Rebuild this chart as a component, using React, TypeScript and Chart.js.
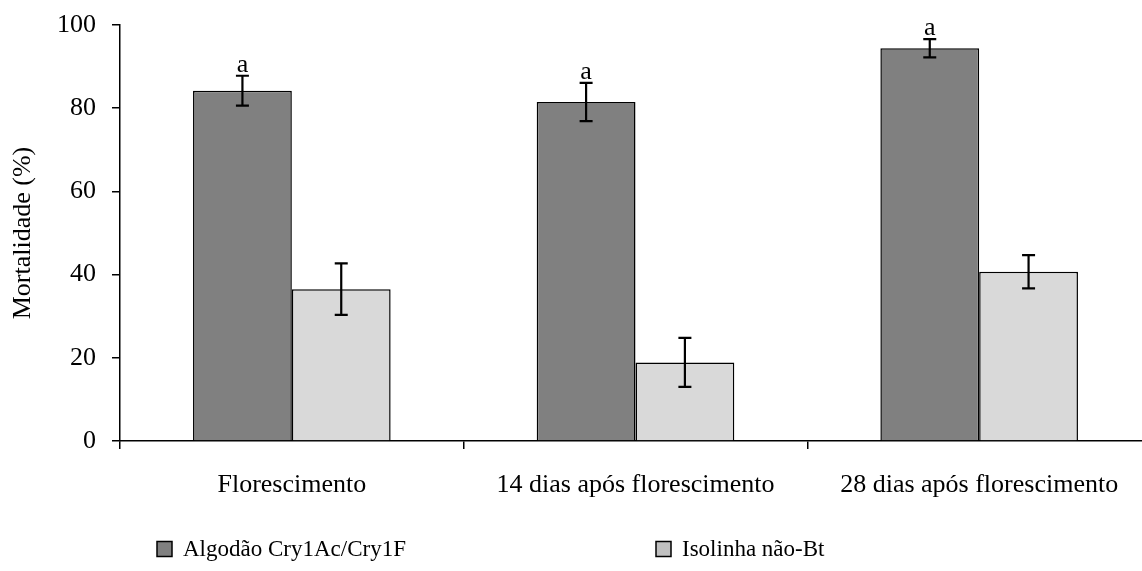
import React, { useEffect, useRef } from "react";
import { Chart, registerables } from "chart.js";

Chart.register(...registerables);

const categories = ["Florescimento", "14 dias após florescimento", "28 dias após florescimento"];
const seriesNames = ["Algodão Cry1Ac/Cry1F", "Isolinha não-Bt"];
const btValues = [84.2, 81.5, 94.4];
const btErrors = [3.6, 4.6, 2.2];
const isoValues = [36.5, 18.9, 40.7];
const isoErrors = [6.2, 5.9, 4.0];
const btLetters = ["a", "a", "a"];
const isoLetters = ["", "", ""];
const yMin = 0;
const yMax = 100;
const yStep = 20;
const yTitle = "Mortalidade (%)";

const SERIF = "'Liberation Serif', 'Times New Roman', serif";
const DARK = "#808080";
const LIGHT = "#d9d9d9";

const errorBarPlugin = {
  id: "errorBars",
  afterDatasetsDraw(chart: any) {
    const ctx = chart.ctx;
    const yScale = chart.scales.y;
    const errs = [btErrors, isoErrors];
    const letters = [btLetters, isoLetters];
    chart.data.datasets.forEach((ds: any, di: number) => {
      const meta = chart.getDatasetMeta(di);
      meta.data.forEach((el: any, i: number) => {
        const v = ds.data[i];
        const e = errs[di][i];
        const x = el.x;
        const yTop = yScale.getPixelForValue(v + e);
        const yBot = yScale.getPixelForValue(v - e);
        ctx.save();
        ctx.strokeStyle = "#000";
        ctx.lineWidth = 2.2;
        ctx.beginPath();
        ctx.moveTo(x, yTop);
        ctx.lineTo(x, yBot);
        ctx.moveTo(x - 6.5, yTop);
        ctx.lineTo(x + 6.5, yTop);
        ctx.moveTo(x - 6.5, yBot);
        ctx.lineTo(x + 6.5, yBot);
        ctx.stroke();
        const letter = letters[di][i];
        if (letter) {
          ctx.fillStyle = "#000";
          ctx.font = `26px ${SERIF}`;
          ctx.textAlign = "center";
          ctx.textBaseline = "alphabetic";
          ctx.fillText(letter, x, yTop - 4);
        }
        ctx.restore();
      });
    });
  },
};

const customLegendPlugin = {
  id: "customLegend",
  afterDraw(chart: any) {
    const ctx = chart.ctx;
    const starts = [157, 656];
    const yCenter = 549;
    const box = 15;
    chart.data.datasets.forEach((ds: any, di: number) => {
      const x = starts[di];
      ctx.save();
      ctx.fillStyle = di === 0 ? DARK : "#c0c0c0";
      ctx.fillRect(x, yCenter - box / 2, box, box);
      ctx.strokeStyle = "#000";
      ctx.lineWidth = 1.5;
      ctx.strokeRect(x, yCenter - box / 2, box, box);
      ctx.fillStyle = "#000";
      ctx.font = `23px ${SERIF}`;
      ctx.textAlign = "left";
      ctx.textBaseline = "middle";
      ctx.fillText(ds.label, x + 26, yCenter + 1);
      ctx.restore();
    });
  },
};

export default function App() {
  const ref = useRef<HTMLCanvasElement | null>(null);

  useEffect(() => {
    if (!ref.current) return;
    const yTickValues: number[] = [];
    for (let v = yMin; v <= yMax; v += yStep) yTickValues.push(v);
    const chart = new Chart(ref.current, {
      type: "bar",
      data: {
        labels: categories,
        datasets: [
          {
            label: seriesNames[0],
            data: btValues,
            backgroundColor: DARK,
            borderColor: "#000",
            borderWidth: 1.5,
            categoryPercentage: 0.575,
            barPercentage: 1.0,
          },
          {
            label: seriesNames[1],
            data: isoValues,
            backgroundColor: LIGHT,
            borderColor: "#000",
            borderWidth: 1.5,
            categoryPercentage: 0.575,
            barPercentage: 1.0,
          },
        ],
      },
      options: {
        responsive: false,
        animation: false,
        devicePixelRatio: 1,
        layout: { padding: { left: 0, right: 9, top: 25, bottom: 60 } },
        plugins: {
          legend: { display: false },
          tooltip: { enabled: false },
        },
        scales: {
          x: {
            offset: true,
            grid: {
              display: true,
              drawOnChartArea: false,
              drawTicks: true,
              tickLength: 8,
              color: "#000",
              lineWidth: 1.5,
              offset: true,
            },
            border: { display: true, color: "#000", width: 1.5 },
            ticks: {
              color: "#000",
              font: { family: SERIF, size: 26 },
              maxRotation: 0,
              autoSkip: false,
              padding: 21,
            },
            afterFit(scale: any) {
              scale.height = 70;
              scale.paddingLeft = 0;
              scale.paddingRight = 0;
            },
          },
          y: {
            min: yMin,
            max: yMax,
            afterBuildTicks(scale: any) {
              scale.ticks = yTickValues.map((v) => ({ value: v }));
            },
            grid: {
              display: true,
              drawOnChartArea: false,
              drawTicks: true,
              tickLength: 8,
              color: "#000",
              lineWidth: 1.5,
            },
            border: { display: true, color: "#000", width: 1.5 },
            ticks: {
              color: "#000",
              font: { family: SERIF, size: 26 },
              padding: 16,
            },
            title: {
              display: true,
              text: yTitle,
              color: "#000",
              font: { family: SERIF, size: 26 },
              padding: { top: 8, bottom: 0 },
            },
            afterFit(scale: any) {
              scale.width = 120;
              scale.paddingTop = 0;
              scale.paddingBottom = 0;
            },
          },
        },
      },
      plugins: [errorBarPlugin, customLegendPlugin],
    });
    return () => chart.destroy();
  }, []);

  return (
    <div
      style={{
        position: "absolute",
        left: 0,
        top: 0,
        width: 1142,
        height: 571,
        overflow: "hidden",
        background: "#fff",
      }}
    >
      <canvas ref={ref} width={1160} height={571} style={{ display: "block", width: 1160, height: 571 }} />
    </div>
  );
}
